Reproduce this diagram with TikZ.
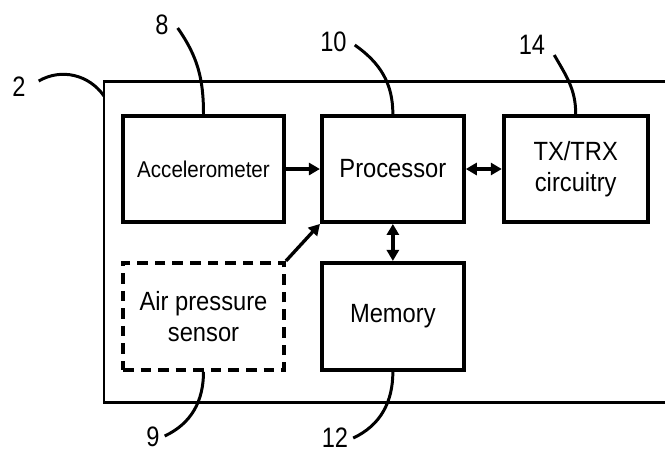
\documentclass[tikz,border=0pt]{standalone}
\usepackage{fontspec}
\setmainfont[FakeStretch=0.9]{Liberation Sans}
\newfontfamily\refnum[FakeStretch=0.84]{Liberation Sans}
\usetikzlibrary{arrows.meta,positioning}

\begin{document}
\begin{tikzpicture}[node distance=0.74cm and 0.7cm, every node/.style={font=\fontsize{15}{17.5}\selectfont}]
\tikzset{blk/.style={draw, line width=2.2pt, minimum width=2.84cm, minimum height=2.12cm, align=center, inner sep=1pt}}
\tikzset{lead/.style={line width=1.7pt}}
\tikzset{ref/.style={font=\refnum\fontsize{16}{18}\selectfont, inner sep=1pt}}
\tikzset{link/.style={line width=1.9pt, -{Triangle[length=2.2mm,width=2.4mm]}}}
\tikzset{blink/.style={line width=1.9pt, {Triangle[length=2.2mm,width=2.4mm]}-{Triangle[length=2.2mm,width=2.4mm]}}}
\useasboundingbox (0,0) rectangle (13.3,-9.08);
% device frame, open to the right
\draw[line width=1.7pt] (13.3,-1.62) -- (2.08,-1.62) -- (2.08,-8.04) -- (13.3,-8.04);
\coordinate (dev) at (2.08,-1.92);
% blocks
\node[blk, minimum width=3.22cm, font=\fontsize{13}{15}\selectfont] (acc) at (4.07,-3.38) {Accelerometer};
\node[blk, right=0.68cm of acc] (proc) {Processor};
\node[blk, right=0.72cm of proc, minimum width=2.88cm] (trx) {TX/TRX\\circuitry};
\node[blk, dashed, dash pattern=on 6pt off 4pt, minimum width=3.22cm, minimum height=2.14cm, below=of acc] (air) {Air pressure\\sensor};
\node[blk, minimum height=2.14cm, below=of proc] (mem) {Memory};
% connections
\draw[link] (acc) -- (proc);
\draw[blink] (proc) -- (trx);
\draw[blink] (proc) -- (mem);
\draw[link] (air.north east) -- (proc.south west);
% reference numerals
\node[ref] (r2) at (0.38,-1.74) {2};
\node[ref] (r8) at (3.24,-0.5) {8};
\node[ref] (r10) at (6.67,-0.84) {10};
\node[ref] (r14) at (10.64,-0.9) {14};
\node[ref] (r9) at (3.06,-8.74) {9};
\node[ref] (r12) at (6.7,-8.76) {12};
\draw[lead] (r2.east) ++(0.22,0.12) to[out=30,in=125] (dev);
\draw[lead] (r8.east) ++(0.14,-0.06) to[out=-55,in=90] (acc.north);
\draw[lead] (r10.east) ++(0.12,-0.06) to[out=-35,in=90] (proc.north);
\draw[lead] (r14.east) ++(0.14,-0.2) to[out=-60,in=90] (trx.north);
\draw[lead] (r9.east) ++(0.06,0.02) to[out=25,in=-90] (air.south);
\draw[lead] (r12.east) ++(0.06,0.0) to[out=25,in=-90] (mem.south);
\end{tikzpicture}
\end{document}
